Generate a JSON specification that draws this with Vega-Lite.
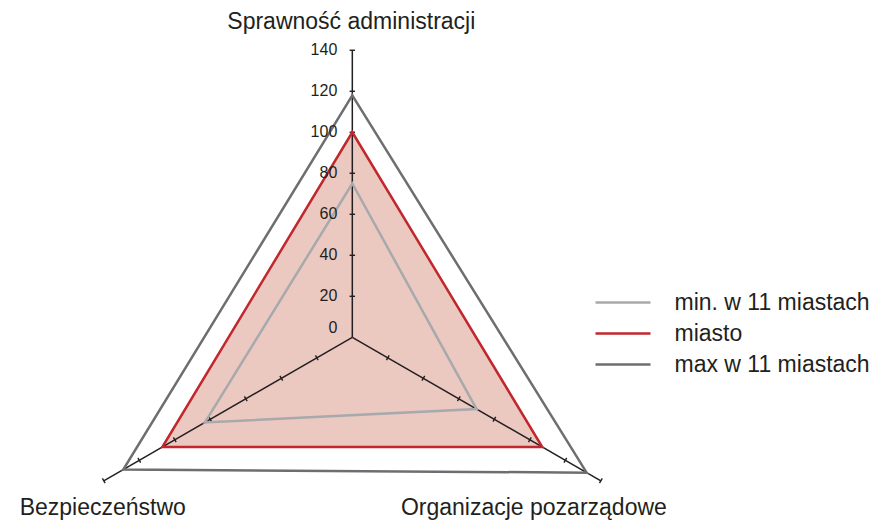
{
  "$schema": "https://vega.github.io/schema/vega-lite/v6.json",
  "width": 888,
  "height": 520,
  "padding": 0,
  "autosize": {"type": "none"},
  "background": "white",
  "config": {"view": {"stroke": null}, "font": "Liberation Sans", "text": {"color": "#231f20"}},
  "datasets": {
    "scores": [
      {"axis": "Sprawność administracji", "series": "min. w 11 miastach", "value": 75},
      {"axis": "Organizacje pozarządowe", "series": "min. w 11 miastach", "value": 70},
      {"axis": "Bezpieczeństwo", "series": "min. w 11 miastach", "value": 83},
      {"axis": "Sprawność administracji", "series": "miasto", "value": 100},
      {"axis": "Organizacje pozarządowe", "series": "miasto", "value": 107},
      {"axis": "Bezpieczeństwo", "series": "miasto", "value": 107},
      {"axis": "Sprawność administracji", "series": "max w 11 miastach", "value": 118},
      {"axis": "Organizacje pozarządowe", "series": "max w 11 miastach", "value": 132},
      {"axis": "Bezpieczeństwo", "series": "max w 11 miastach", "value": 129}
    ],
    "axes": [
      {"axis": "Sprawność administracji", "max": 140, "ticks": [0, 20, 40, 60, 80, 100, 120, 140]},
      {"axis": "Organizacje pozarządowe", "max": 140, "ticks": [0, 20, 40, 60, 80, 100, 120, 140]},
      {"axis": "Bezpieczeństwo", "max": 140, "ticks": [0, 20, 40, 60, 80, 100, 120, 140]}
    ]
  },
  "layer": [
    {
      "data": {"name": "scores"},
      "transform": [
        {"filter": "datum.series === 'miasto'"},
        {"calculate": "indexof(['Sprawność administracji','Organizacje pozarządowe','Bezpieczeństwo'], datum.axis)", "as": "k"},
        {"calculate": "datum.value * cos(PI/2 - datum.k*2*PI/3)", "as": "px"},
        {"calculate": "datum.value * sin(PI/2 - datum.k*2*PI/3)", "as": "py"}
      ],
      "mark": {"type": "line", "interpolate": "linear-closed", "fill": "#ebc9c0", "stroke": "#ebc9c0", "strokeWidth": 0.5},
      "encoding": {
        "x": {"field": "px", "type": "quantitative", "scale": {"domain": [-171.85, 261.3], "nice": false, "zero": false}, "axis": null},
        "y": {"field": "py", "type": "quantitative", "scale": {"domain": [-89.1, 164.5], "nice": false, "zero": false}, "axis": null},
        "order": {"field": "k"}
      }
    },
    {
      "data": {"name": "axes"},
      "transform": [
        {"calculate": "indexof(['Sprawność administracji','Organizacje pozarządowe','Bezpieczeństwo'], datum.axis)", "as": "k"},
        {"calculate": "datum.max * cos(PI/2 - datum.k*2*PI/3)", "as": "ex"},
        {"calculate": "datum.max * sin(PI/2 - datum.k*2*PI/3)", "as": "ey"}
      ],
      "mark": {"type": "rule", "color": "#231f20", "strokeWidth": 1.5},
      "encoding": {
        "x": {"field": "ex", "type": "quantitative"},
        "y": {"field": "ey", "type": "quantitative"},
        "x2": {"datum": 0},
        "y2": {"datum": 0}
      }
    },
    {
      "data": {"name": "axes"},
      "transform": [
        {"flatten": ["ticks"], "as": ["t"]},
        {"filter": "datum.t > 0"},
        {"calculate": "indexof(['Sprawność administracji','Organizacje pozarządowe','Bezpieczeństwo'], datum.axis)", "as": "k"},
        {"calculate": "datum.t * cos(PI/2 - datum.k*2*PI/3)", "as": "px"},
        {"calculate": "datum.t * sin(PI/2 - datum.k*2*PI/3)", "as": "py"},
        {"calculate": "datum.k * 120", "as": "ang"}
      ],
      "mark": {"type": "point", "shape": "stroke", "size": 30, "strokeWidth": 1.4, "color": "#231f20", "filled": false, "opacity": 1},
      "encoding": {
        "x": {"field": "px", "type": "quantitative"},
        "y": {"field": "py", "type": "quantitative"},
        "angle": {"field": "ang", "type": "quantitative", "scale": null}
      }
    },
    {
      "data": {"name": "scores"},
      "transform": [
        {"calculate": "indexof(['Sprawność administracji','Organizacje pozarządowe','Bezpieczeństwo'], datum.axis)", "as": "k"},
        {"calculate": "datum.value * cos(PI/2 - datum.k*2*PI/3)", "as": "px"},
        {"calculate": "datum.value * sin(PI/2 - datum.k*2*PI/3)", "as": "py"}
      ],
      "mark": {"type": "line", "interpolate": "linear-closed", "strokeWidth": 2.5},
      "encoding": {
        "x": {"field": "px", "type": "quantitative"},
        "y": {"field": "py", "type": "quantitative"},
        "order": {"field": "k"},
        "color": {
          "field": "series",
          "type": "nominal",
          "scale": {"domain": ["min. w 11 miastach", "miasto", "max w 11 miastach"], "range": ["#a7a9ac", "#c1272d", "#6d6e71"]},
          "legend": {
            "title": null,
            "orient": "none",
            "legendX": 610.5,
            "legendY": 290,
            "padding": 0,
            "symbolType": "M-2.5,0L2.5,0",
            "symbolSize": 484,
            "symbolStrokeWidth": 2.5,
            "labelFont": "Liberation Sans",
            "labelFontSize": 23,
            "labelColor": "#231f20",
            "labelOffset": 39,
            "labelLimit": 0,
            "rowPadding": 6
          }
        }
      }
    },
    {
      "data": {"name": "axes"},
      "transform": [
        {"filter": "datum.axis === 'Sprawność administracji'"},
        {"flatten": ["ticks"], "as": ["t"]},
        {"filter": "datum.t > 0"}
      ],
      "mark": {"type": "text", "align": "right", "baseline": "middle", "dx": -15, "fontSize": 16, "font": "Liberation Sans"},
      "encoding": {
        "x": {"datum": 0},
        "y": {"field": "t", "type": "quantitative"},
        "text": {"field": "t", "type": "quantitative"}
      }
    },
    {
      "data": {"name": "axes"},
      "transform": [
        {"filter": "datum.axis === 'Sprawność administracji'"},
        {"flatten": ["ticks"], "as": ["t"]},
        {"filter": "datum.t === 0"}
      ],
      "mark": {"type": "text", "align": "right", "baseline": "middle", "dx": -15, "dy": -9, "fontSize": 16, "font": "Liberation Sans"},
      "encoding": {
        "x": {"datum": 0},
        "y": {"field": "t", "type": "quantitative"},
        "text": {"field": "t", "type": "quantitative"}
      }
    },
    {
      "data": {"name": "axes"},
      "transform": [{"filter": "datum.axis === 'Sprawność administracji'"}],
      "mark": {"type": "text", "align": "center", "baseline": "alphabetic", "dx": -1, "dy": -21, "fontSize": 23, "font": "Liberation Sans"},
      "encoding": {
        "x": {"datum": 0},
        "y": {"field": "max", "type": "quantitative"},
        "text": {"field": "axis"}
      }
    },
    {
      "data": {"name": "axes"},
      "transform": [
        {"filter": "datum.axis === 'Bezpieczeństwo'"},
        {"calculate": "datum.max * cos(PI/2 - 2*2*PI/3)", "as": "ex"},
        {"calculate": "datum.max * sin(PI/2 - 2*2*PI/3)", "as": "ey"}
      ],
      "mark": {"type": "text", "align": "center", "baseline": "alphabetic", "dx": -1, "dy": 34, "fontSize": 23, "font": "Liberation Sans"},
      "encoding": {
        "x": {"field": "ex", "type": "quantitative"},
        "y": {"field": "ey", "type": "quantitative"},
        "text": {"field": "axis"}
      }
    },
    {
      "data": {"name": "axes"},
      "transform": [
        {"filter": "datum.axis === 'Organizacje pozarządowe'"},
        {"calculate": "datum.max * cos(PI/2 - 2*PI/3)", "as": "ex"},
        {"calculate": "datum.max * sin(PI/2 - 2*PI/3)", "as": "ey"}
      ],
      "mark": {"type": "text", "align": "center", "baseline": "alphabetic", "dx": -67, "dy": 34, "fontSize": 23, "font": "Liberation Sans"},
      "encoding": {
        "x": {"field": "ex", "type": "quantitative"},
        "y": {"field": "ey", "type": "quantitative"},
        "text": {"field": "axis"}
      }
    }
  ]
}
